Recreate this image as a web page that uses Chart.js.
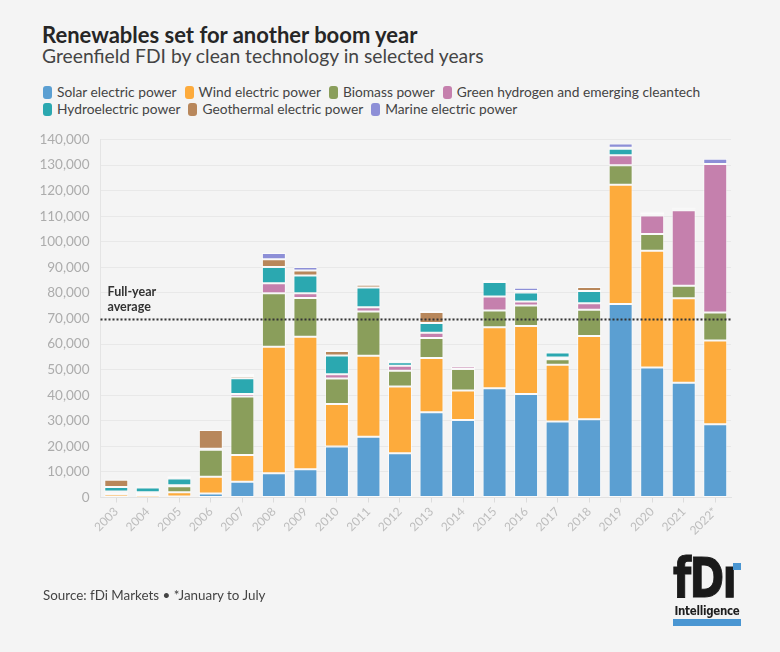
<!DOCTYPE html>
<html>
<head>
<meta charset="utf-8">
<script src="https://cdn.jsdelivr.net/npm/chart.js@4.4.0/dist/chart.umd.min.js"></script>
<style>
  html, body { margin:0; padding:0; }
  body { width:780px; height:652px; background:#f4f4f4; position:relative; overflow:hidden; font-family:Lato, "Open Sans", sans-serif; }
  #title { position:absolute; left:42px; top:24px; font-size:22px; line-height:22px; font-weight:700; color:#262626; white-space:nowrap; }
  #subtitle { position:absolute; left:42px; top:46px; font-size:19.3px; line-height:19px; color:#444; white-space:nowrap; }
  .legrow { position:absolute; left:43px; display:flex; align-items:center; font-size:13.75px; line-height:14px; color:#444; white-space:nowrap; }
  .legitem { display:flex; align-items:center; margin-right:8px; }
  .sw { width:9px; height:13px; border-radius:3px; margin-right:5px; }
  #chartbox { position:absolute; left:0; top:120px; width:780px; height:470px; }
  #source { position:absolute; left:43px; top:588px; font-size:13.4px; line-height:14px; color:#444; white-space:nowrap; }
  #logo { position:absolute; left:673px; top:550px; width:68px; height:78px; }
  #logo .big { position:absolute; left:0; top:0; font-family:"DejaVu Sans Condensed","DejaVu Sans",sans-serif; font-weight:700; font-size:56px; line-height:56px; color:#1a1a1a; letter-spacing:-2px; transform-origin:0 0; transform:scaleX(0.83); white-space:nowrap; -webkit-text-stroke:1px #1a1a1a; }
  #logo .dot { position:absolute; left:60px; top:13px; width:8px; height:7px; background:#4a96d2; }
  #logo .small { position:absolute; left:0; top:55px; width:68px; font-family:"DejaVu Sans Condensed","DejaVu Sans",sans-serif; font-weight:700; font-size:11.5px; line-height:12px; color:#1e1e1e; text-align:center; letter-spacing:-0.3px; white-space:nowrap; }
  #logo .bar { position:absolute; left:0; top:69px; width:68px; height:7px; background:#4a96d2; }
</style>
</head>
<body>
<div id="title">Renewables set for another boom year</div>
<div id="subtitle">Greenfield FDI by clean technology in selected years</div>
<div id="leg1" class="legrow" style="top:85px"></div>
<div id="leg2" class="legrow" style="top:102px"></div>
<div id="chartbox"><canvas id="c" width="780" height="470"></canvas></div>
<div id="source">Source: fDi Markets • *January to July</div>
<div id="logo"><div class="big">fDı</div><div class="dot"></div><div class="small">Intelligence</div><div class="bar"></div></div>
<script>
// ---- data ----
const years = ['2003','2004','2005','2006','2007','2008','2009','2010','2011','2012','2013','2014','2015','2016','2017','2018','2019','2020','2021','2022*'];
const solar    = [200, 100, 400, 1600, 6200, 9500, 11000, 19900, 23800, 17300, 33300, 30300, 42700, 40500, 29700, 30600, 75700, 50800, 44900, 28600];
const wind     = [1000, 900, 1700, 6500, 10400, 49500, 51900, 16700, 31600, 26100, 21300, 11500, 23900, 26600, 22200, 32600, 46600, 45700, 33000, 32800];
const biomass  = [800, 800, 2300, 10600, 22900, 20900, 15100, 9900, 17300, 6200, 7800, 8500, 6500, 8000, 2200, 10200, 7600, 6500, 4900, 10900];
const hydrogen = [300, 300, 400, 200, 1000, 3900, 1900, 1700, 1700, 1900, 2000, 900, 5500, 1500, 600, 2600, 3900, 7300, 29500, 58100];
const hydro    = [1800, 1800, 2600, 200, 6100, 6300, 6900, 7300, 7700, 1400, 3800, 200, 5700, 3600, 2000, 4800, 2600, 500, 300, 0];
const geo      = [2800, 300, 600, 7300, 900, 3100, 2000, 1800, 1100, 500, 4300, 100, 400, 600, 300, 1500, 400, 600, 300, 0];
const marine   = [200, 500, 300, 0, 800, 2400, 1300, 400, 500, 400, 500, 100, 400, 1200, 200, 200, 1600, 400, 500, 2100];
const seriesNames = ['Solar electric power','Wind electric power','Biomass power','Green hydrogen and emerging cleantech','Hydroelectric power','Geothermal electric power','Marine electric power'];
const yTicks = [0, 10000, 20000, 30000, 40000, 50000, 60000, 70000, 80000, 90000, 100000, 110000, 120000, 130000, 140000];
const fullYearAverage = 70000;
const averageLabel = ['Full-year', 'average'];

const colors = ['#5b9fd2','#fdab3c','#8a9e5b','#c580ad','#2ba8b0','#b8875b','#8d8fd7'];
const seriesData = [solar, wind, biomass, hydrogen, hydro, geo, marine];

// legend (HTML)
const rows = [[0,1,2,3],[4,5,6]];
rows.forEach((r, i) => {
  const el = document.getElementById('leg' + (i+1));
  r.forEach(k => {
    const it = document.createElement('div'); it.className = 'legitem';
    const sw = document.createElement('div'); sw.className = 'sw'; sw.style.background = colors[k];
    const tx = document.createElement('span'); tx.textContent = seriesNames[k];
    it.appendChild(sw); it.appendChild(tx); el.appendChild(it);
  });
});

const avgPlugin = {
  id: 'avgLine',
  afterDatasetsDraw(chart) {
    const {ctx, chartArea, scales} = chart;
    const yy = Math.round(scales.y.getPixelForValue(fullYearAverage)) + 0.5;
    ctx.save();
    ctx.strokeStyle = '#333';
    ctx.lineWidth = 2.2;
    ctx.setLineDash([2, 2]);
    ctx.beginPath();
    ctx.moveTo(chartArea.left, yy);
    ctx.lineTo(chartArea.right, yy);
    ctx.stroke();
    ctx.setLineDash([]);
    ctx.fillStyle = '#333';
    ctx.font = 'bold 12.5px Lato, sans-serif';
    ctx.textAlign = 'left';
    ctx.textBaseline = 'alphabetic';
    ctx.fillText(averageLabel[0], chartArea.left + 7, yy - 23.5);
    ctx.fillText(averageLabel[1], chartArea.left + 7, yy - 9);
    ctx.restore();
  }
};

new Chart(document.getElementById('c'), {
  type: 'bar',
  data: {
    labels: years,
    datasets: seriesData.map((d, i) => ({
      label: seriesNames[i],
      data: d,
      backgroundColor: colors[i],
      borderColor: 'rgba(255,255,255,0.6)',
      borderWidth: 1,
      borderSkipped: false,
      categoryPercentage: 1,
      barPercentage: 0.76
    }))
  },
  options: {
    responsive: false,
    animation: false,
    layout: { padding: { left: 0, right: 49, top: 19.5, bottom: 0 } },
    plugins: { legend: { display: false }, tooltip: { enabled: false }, title: { display: false } },
    scales: {
      x: {
        stacked: true,
        afterFit(scale) { scale.height = 92.5; },
        grid: { offset: false, drawOnChartArea: false, drawTicks: true, tickLength: 5, color: '#dcdcdc' },
        border: { display: true, color: '#e2e2e2' },
        ticks: { color: '#bdbdbd', font: { size: 12, family: 'Lato' }, minRotation: 45, maxRotation: 45, padding: 2, autoSkip: false }
      },
      y: {
        stacked: true,
        min: 0, max: 140000,
        afterFit(scale) { scale.width = 100.5; },
        afterBuildTicks(scale) { scale.ticks = yTicks.map(v => ({ value: v })); },
        grid: { color: '#e8e8e8', drawTicks: false },
        border: { display: true, color: '#e4e4e4' },
        ticks: { color: '#acacac', font: { size: 13.5, family: 'Lato' }, padding: 11 }
      }
    }
  },
  plugins: [avgPlugin]
});
</script>
</body>
</html>
